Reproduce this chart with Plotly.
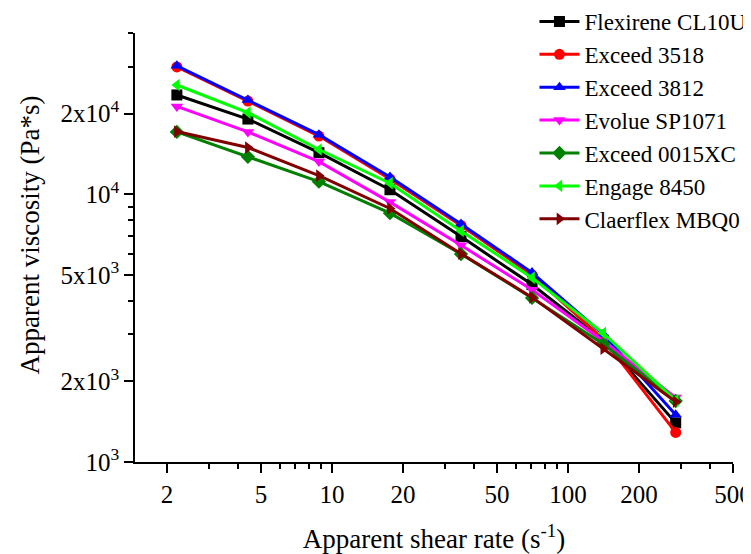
import plotly.graph_objects as go

shear_rate = [2.2, 4.4, 8.8, 17.6, 35.2, 70.4, 141, 286]

series_names = ["Flexirene CL10U", "Exceed 3518", "Exceed 3812", "Evolue SP1071",
                "Exceed 0015XC", "Engage 8450", "Claerflex MBQ0"]

flexirene = [23500, 19100, 14300, 10400, 6950, 4600, 2850, 1400]
exceed3518 = [29900, 22300, 16500, 11400, 7650, 5000, 2880, 1290]
exceed3812 = [30200, 22500, 16700, 11600, 7750, 5100, 3000, 1500]
evolue = [21300, 17100, 13250, 9350, 6450, 4400, 2830, 1740]
exceed0015 = [17100, 13800, 11150, 8500, 5980, 4100, 2760, 1690]
engage = [25600, 20200, 14700, 11000, 7300, 4880, 3030, 1700]
claerflex = [17150, 14950, 11750, 8850, 6000, 4120, 2650, 1680]

y_values = [flexirene, exceed3518, exceed3812, evolue, exceed0015, engage, claerflex]

colors = ["#000000", "#FF0000", "#0000FF", "#FF00FF", "#008000", "#00FF00", "#800000"]
symbols = ["square", "circle", "triangle-up", "triangle-down", "diamond", "triangle-left", "triangle-right"]

x_major = [2, 5, 10, 20, 50, 100, 200, 500]
x_major_text = ["2", "5", "10", "20", "50", "100", "200", "500"]
x_minor = [3, 4, 6, 7, 8, 9, 30, 40, 60, 70, 80, 90, 300, 400]

y_major = [1000, 2000, 5000, 10000, 20000]
y_major_text = ["10<sup>3</sup>", "2x10<sup>3</sup>", "5x10<sup>3</sup>", "10<sup>4</sup>", "2x10<sup>4</sup>"]
y_minor = [3000, 4000, 6000, 7000, 8000, 9000, 30000, 40000]

FONT = "Liberation Serif, serif"

fig = go.Figure()
for name, ys, c, s in zip(series_names, y_values, colors, symbols):
    fig.add_trace(go.Scatter(
        x=shear_rate, y=ys, name=name, mode="lines+markers",
        line=dict(color=c, width=3),
        marker=dict(symbol=s, size=11, color=c),
    ))

# page body has an 8px default margin, so the figure is sized to the visible area
fig.update_layout(
    width=743, height=546,
    margin=dict(l=127, r=18, t=25, b=92, autoexpand=False),
    plot_bgcolor="white", paper_bgcolor="white",
    font=dict(family=FONT, size=23, color="black"),
    showlegend=True,
    legend=dict(x=0.668, y=1.077, xanchor="left", yanchor="top",
                bgcolor="rgba(0,0,0,0)",
                font=dict(family=FONT, size=23, color="black"),
                itemwidth=40, tracegroupgap=0),
    xaxis=dict(type="log", range=[0.165, 2.6992],
               tickmode="array", tickvals=x_major, ticktext=x_major_text,
               ticks="outside", ticklen=9, tickwidth=1.5, tickcolor="black",
               ticklabeloverflow="allow",
               minor=dict(tickmode="array", tickvals=x_minor, ticks="outside",
                          ticklen=5, tickwidth=1.5, tickcolor="black"),
               showline=True, linecolor="black", linewidth=1.5,
               showgrid=False, zeroline=False,
               title=dict(text="Apparent shear rate (s<sup>-1</sup>)",
                          font=dict(family=FONT, size=27), standoff=26),
               tickfont=dict(family=FONT, size=25)),
    yaxis=dict(type="log", range=[3, 4.6025],
               tickmode="array", tickvals=y_major, ticktext=y_major_text,
               ticks="outside", ticklen=9, tickwidth=1.5, tickcolor="black",
               ticklabeloverflow="allow",
               minor=dict(tickmode="array", tickvals=y_minor, ticks="outside",
                          ticklen=5, tickwidth=1.5, tickcolor="black"),
               showline=True, linecolor="black", linewidth=1.5,
               showgrid=False, zeroline=False,
               tickfont=dict(family=FONT, size=25)),
    annotations=[dict(text="Apparent viscosity (Pa*s)", xref="paper", yref="paper",
                      x=-0.1755, y=0.528, xanchor="center", yanchor="middle",
                      textangle=-90, showarrow=False,
                      font=dict(family=FONT, size=27, color="black"))],
)

fig.write_html("out.html")
